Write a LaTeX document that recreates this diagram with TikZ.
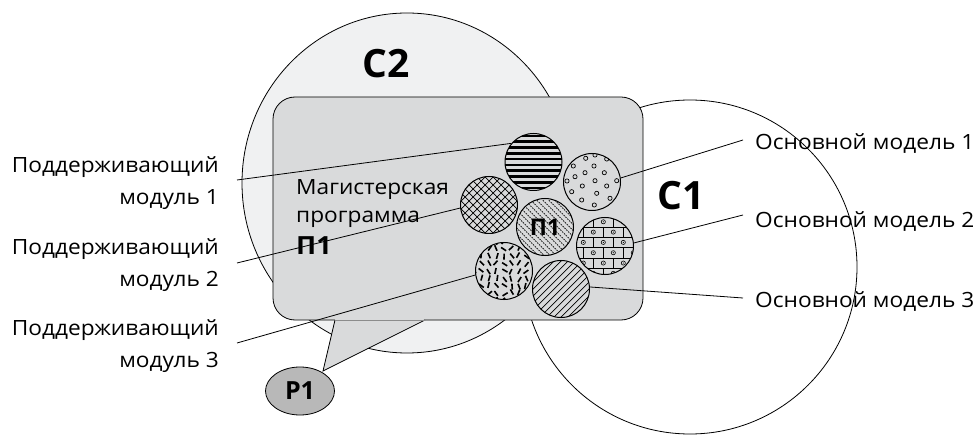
\documentclass[tikz,border=0pt]{standalone}
\usepackage{fontspec}
\setmainfont{Open Sans}
\newfontfamily\labelfont{Open Sans}[FakeStretch=1.08]
\usetikzlibrary{shapes.geometric}
\definecolor{spherefill}{HTML}{F0F1F2}
\definecolor{boxfill}{HTML}{D9DADB}
\definecolor{pfill}{HTML}{B8B8B8}
\begin{document}
\begin{tikzpicture}[x=1pt,y=-1pt,
  conn/.style={line width=0.8pt},
  disc/.style={circle,draw,line width=1pt,minimum size=57pt,inner sep=0pt},
  lbl/.style={font=\labelfont\fontsize{21}{32}\selectfont,inner sep=0pt},
  biglbl/.style={font=\fontsize{39}{39}\selectfont\bfseries,inner sep=0pt},
  % fillings of the module discs
  hstripes/.style={path picture={
    \begin{scope}[shift={(path picture bounding box.center)}]
      \foreach \y in {-26.1,-20.3,...,29} \draw[line width=2.7pt] (-30,\y) -- (30,\y);
    \end{scope}}},
  rings/.style={path picture={
    \begin{scope}[shift={(path picture bounding box.center)}]
      \foreach \x/\y in {-6.3/-23.7,3/-27,14.7/-23,-18.7/-16,2/-16,-7/-9.3,12.3/-9.3,
                         -17/-5.3,3/-1.3,24.7/-1.3,-9.7/4,14.7/4,-20.3/9.7,4.7/11.3,
                         -10.3/18,18/16.3,2.3/23,-25/-1}
        \draw[line width=0.7pt] (\x,\y) circle (2.1pt);
    \end{scope}}},
  xhatch/.style={path picture={
    \begin{scope}[shift={(path picture bounding box.center)}]
      \foreach \t in {-72,-64,...,72} {
        \draw[line width=0.7pt] (\t-35,-35) -- (\t+35,35);
        \draw[line width=0.7pt] (\t-35,35) -- (\t+35,-35);}
    \end{scope}}},
  dashhatch/.style={path picture={
    \begin{scope}[shift={(path picture bounding box.center)}]
      \foreach \t in {-66,-60,...,66}
        \draw[line width=0.6pt,dash pattern=on 1.6pt off 1pt] (\t-35,-35) -- (\t+35,35);
    \end{scope}}},
  bricks/.style={path picture={
    \begin{scope}[shift={(path picture bounding box.center)}]
      \foreach \y in {-19,-8.7,1.6,11.9,22.2} \draw[line width=0.7pt] (-30,\y) -- (30,\y);
      \foreach \i/\yt/\yc/\off in {0/-29.3/-24.2/-1.7,1/-19/-13.9/8.3,2/-8.7/-3.6/-1.7,
                                   3/1.6/6.75/8.3,4/11.9/17.05/-1.7,5/22.2/27.35/8.3} {
        \foreach \k in {-2,...,2} {
          \draw[line width=0.7pt] (\off+20*\k+10,\yt) -- (\off+20*\k+10,\yt+10.3);
          \draw[line width=0.6pt] (\off+20*\k,\yc) circle (2.1pt);
          \fill (\off+20*\k,\yc) circle (0.6pt);}}
    \end{scope}}},
  specks/.style={path picture={
    \begin{scope}[shift={(path picture bounding box.center)}]
      \pgfmathsetseed{11}
      \foreach \i in {-4,...,4} \foreach \j in {-4,...,4} {
        \pgfmathsetmacro\ang{30+rnd*120}
        \pgfmathsetmacro\dx{(rnd-0.5)*2.4}
        \pgfmathsetmacro\dy{(rnd-0.5)*2.4}
        \draw[line width=1.6pt] (\i*7.4+\dx,\j*7.4+\dy) ++(\ang:3) -- ++(\ang+180:6);}
    \end{scope}}},
  slashes/.style={path picture={
    \begin{scope}[shift={(path picture bounding box.center)}]
      \foreach \t in {-70,-63,...,70}
        \draw[line width=0.7pt] (\t-35,35) -- (\t+35,-35);
    \end{scope}}}
]
\useasboundingbox (0,0) rectangle (973,435);

% the two spheres
\node[ellipse,draw,line width=0.8pt,fill=spherefill,minimum width=330pt,minimum height=340pt,inner sep=0pt] (C2) at (407,183) {};
\node[circle,draw,line width=0.8pt,minimum size=334pt,inner sep=0pt] (C1) at (690,267) {};

% programme card with its callout tail
\node[draw,line width=0.8pt,fill=boxfill,rounded corners=22pt,minimum width=370pt,minimum height=223pt,inner sep=0pt] (prog) at (458,208.5) {};
\coordinate (t1) at (335,320);
\coordinate (t2) at (425,320);
\coordinate (tip) at (323,371);
\fill[boxfill] ([yshift=1pt]t1) -- (tip) -- ([yshift=1pt]t2) -- cycle;
\draw[line width=0.8pt] (t1) -- (tip) -- (t2);
\draw[line width=0.8pt,black!45] (t1) -- (t2);
\node[ellipse,draw,line width=0.8pt,fill=pfill,minimum width=69pt,minimum height=48pt,inner sep=0pt,
      font=\fontsize{25}{25}\selectfont\bfseries] (P1) at (300,391) {P1};

% module discs
\node[disc,hstripes] (A) at (533.5,162) {};
\node[disc,rings] (B) at (592,182) {};
\node[disc,xhatch] (Cc) at (489,205) {};
\node[disc,dashhatch,font=\fontsize{23}{23}\selectfont\bfseries] (D) at (545,227) {П1};
\node[disc,bricks] (E) at (605,246) {};
\node[disc,specks] (F) at (504,271) {};
\node[disc,slashes] (G) at (561,289) {};

% texts
\node[biglbl,anchor=base west] (tC2) at (362,78) {C2};
\node[biglbl,anchor=base west] (tC1) at (657,210) {C1};
\node[font=\labelfont\fontsize{21}{28}\selectfont,inner sep=0pt,align=left,anchor=base west] (mp) at (296,255)
  {Магистерская\\программа\\[4pt]{\fontsize{25}{25}\selectfont\bfseries П1}};

\node[lbl,align=right,anchor=base east] (L1) at (219,205) {Поддерживающий\\модуль 1};
\node[lbl,align=right,anchor=base east] (L2) at (219,287) {Поддерживающий\\модуль 2};
\node[lbl,align=right,anchor=base east] (L3) at (219,367) {Поддерживающий\\модуль 3};
\node[lbl,anchor=base west] (R1) at (755,150) {Основной модель 1};
\node[lbl,anchor=base west] (R2) at (755,228) {Основной модель 2};
\node[lbl,anchor=base west] (R3) at (755,307) {Основной модель 3};

% leader lines
\coordinate (s1) at (237,180);
\coordinate (s2) at (237,263);
\coordinate (s3) at (237,343);
\coordinate (e1) at (743,140);
\coordinate (e2) at (743,215);
\coordinate (e3) at (743,298);
\draw[conn] (s1) -- (A.140);
\draw[conn] (s2) -- (Cc.186);
\draw[conn] (s3) -- (F.188);
\draw[conn] (e1) -- (B.8);
\draw[conn] (e2) -- (E.6);
\draw[conn] (e3) -- (G.4);
\end{tikzpicture}
\end{document}
